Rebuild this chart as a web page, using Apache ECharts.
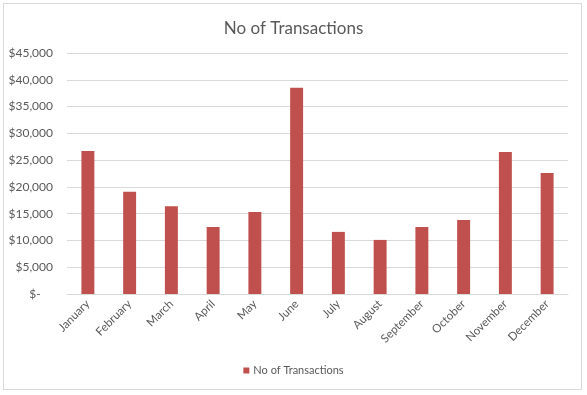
<!DOCTYPE html>
<html>
<head>
<meta charset="utf-8">
<script src="https://cdn.jsdelivr.net/npm/echarts@6/dist/echarts.min.js"></script>
<style>
html,body{margin:0;padding:0;background:#fff;}
#wrap{position:absolute;left:3px;top:3px;width:579px;height:387px;border:1px solid #D9D9D9;box-sizing:border-box;}
#chart{position:absolute;left:0;top:0;width:587px;height:395px;}
</style>
</head>
<body>
<div id="wrap"></div>
<div id="chart"></div>
<script>
const categories = ["January","February","March","April","May","June","July","August","September","October","November","December"];
const values = [26700, 19100, 16400, 12500, 15300, 38500, 11600, 10100, 12500, 13800, 26500, 22600];
const seriesName = "No of Transactions";
const titleText = "No of Transactions";

const FONT = "Lato, 'Open Sans', sans-serif";
const chart = echarts.init(document.getElementById('chart'), null, {renderer:'canvas'});
chart.setOption({
  animation:false,
  backgroundColor:'transparent',
  title:{text:titleText,left:'center',top:15,textStyle:{fontFamily:FONT,fontSize:17,fontWeight:'normal',color:'#595959'}},
  grid:{left:67,right:19,top:53,bottom:101,containLabel:false},
  legend:{bottom:14,left:'center',itemWidth:6,itemHeight:6,icon:'rect',itemGap:6,
    textStyle:{fontFamily:FONT,fontSize:11,color:'#595959',padding:[0,0,0,-1]},data:[seriesName]},
  xAxis:{type:'category',data:categories,
    axisLine:{lineStyle:{color:'#D9D9D9'}},axisTick:{show:false},
    axisLabel:{rotate:45,interval:0,fontFamily:FONT,fontSize:11.5,color:'#595959',margin:8}},
  yAxis:{type:'value',min:0,max:45000,interval:5000,
    axisLine:{show:false},axisTick:{show:false},
    splitLine:{lineStyle:{color:'#D9D9D9',width:1}},
    axisLabel:{fontFamily:FONT,fontSize:12,color:'#595959',margin:14,
      formatter:function(v){return v===0?'$-    ':'$'+v.toLocaleString('en-US');}}},
  series:[{name:seriesName,type:'bar',data:values,barWidth:'31%',itemStyle:{color:'#C0504D'}}]
});
</script>
</body>
</html>
